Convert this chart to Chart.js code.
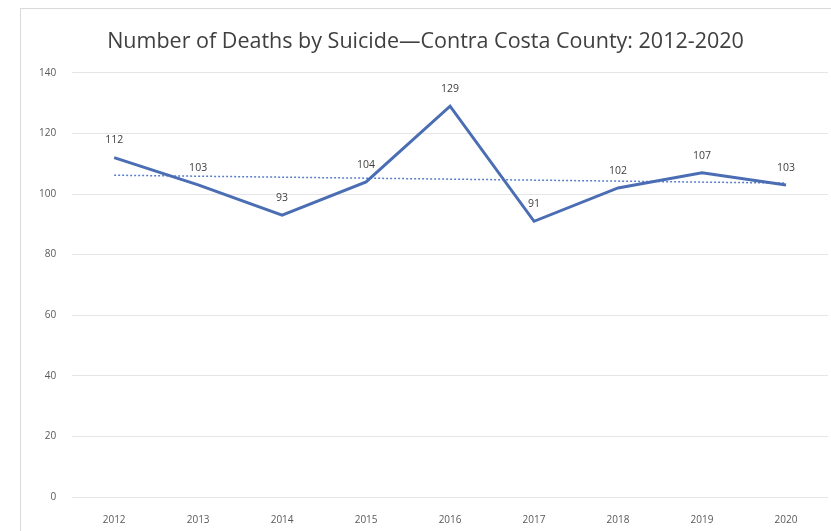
<!DOCTYPE html>
<html>
<head>
<meta charset="utf-8">
<script src="https://cdn.jsdelivr.net/npm/chart.js@4"></script>
<style>
  html, body { margin: 0; padding: 0; background: #fff; }
  #wrap { position: relative; width: 831px; height: 531px; overflow: hidden; }
  #frame { position: absolute; left: 20px; top: 8px; width: 830px; height: 540px; border: 1px solid #d9d9d9; box-sizing: border-box; }
  canvas { position: absolute; left: 0; top: 0; }
</style>
</head>
<body>
<div id="wrap">
  <div id="frame"></div>
  <canvas id="deathsChart" width="831" height="531"></canvas>
</div>
<script>
// data
const years = ['2012', '2013', '2014', '2015', '2016', '2017', '2018', '2019', '2020'];
const deaths = [112, 103, 93, 104, 129, 91, 102, 107, 103];
// trendline end points (2012 / 2020)
const trendYears = ['2012', '2020'];
const trendValues = [106.2, 103.6];
const yTicks = [0, 20, 40, 60, 80, 100, 120, 140];

const lineColor = '#4a6db3';
const textColor = '#595959';
const fontFamily = '"Open Sans", Lato, sans-serif';

//.. draw the value above each point
const valueLabels = {
    id: 'valueLabels',
    afterDatasetsDraw(chart) {
        const ctx = chart.ctx;
        const meta = chart.getDatasetMeta(0);
        ctx.save();
        ctx.font = '10.5px ' + fontFamily;
        ctx.fillStyle = '#404040';
        ctx.textAlign = 'center';
        ctx.textBaseline = 'bottom';
        meta.data.forEach(function (pt, i) {
            ctx.fillText(String(deaths[i]), pt.x, pt.y - 12);
        });
        ctx.restore();
    }
};

const ctx = document.getElementById('deathsChart').getContext('2d');
const chart = new Chart(ctx, {
    type: 'line',
    data: {
        labels: years,
        datasets: [{
            label: 'Deaths',
            data: deaths,
            borderColor: lineColor,
            borderWidth: 3,
            pointRadius: 0,
            tension: 0,
            order: 1
        }, {
            label: 'Trend',
            data: trendYears.map(function (y, i) { return {x: y, y: trendValues[i]}; }),
            borderColor: '#5b7fc7',
            borderWidth: 1.5,
            borderDash: [2, 2],
            pointRadius: 0,
            order: 2
        }]
    },
    options: {
        responsive: false,
        animation: false,
        layout: { padding: { left: 23, right: 3, top: 29, bottom: -12 } },
        plugins: {
            legend: { display: false },
            tooltip: { enabled: false },
            title: {
                display: true,
                text: 'Number of Deaths by Suicide\u2014Contra Costa County: 2012-2020',
                color: '#404040',
                font: { family: fontFamily, size: 21.5, weight: 'normal' },
                padding: { top: 0, bottom: 18 }
            }
        },
        scales: {
            x: {
                offset: true,
                grid: { display: false, drawTicks: false },
                border: { display: false },
                ticks: { color: textColor, font: { family: fontFamily, size: 10 }, padding: 17 }
            },
            y: {
                min: 0,
                max: 140,
                afterBuildTicks: function (axis) { axis.ticks = yTicks.map(function (v) { return {value: v}; }); },
                grid: { color: '#e6e6e6', drawTicks: false },
                border: { display: false },
                ticks: { color: textColor, font: { family: fontFamily, size: 10 }, padding: 16 }
            }
        }
    },
    plugins: [valueLabels]
});
</script>
</body>
</html>
